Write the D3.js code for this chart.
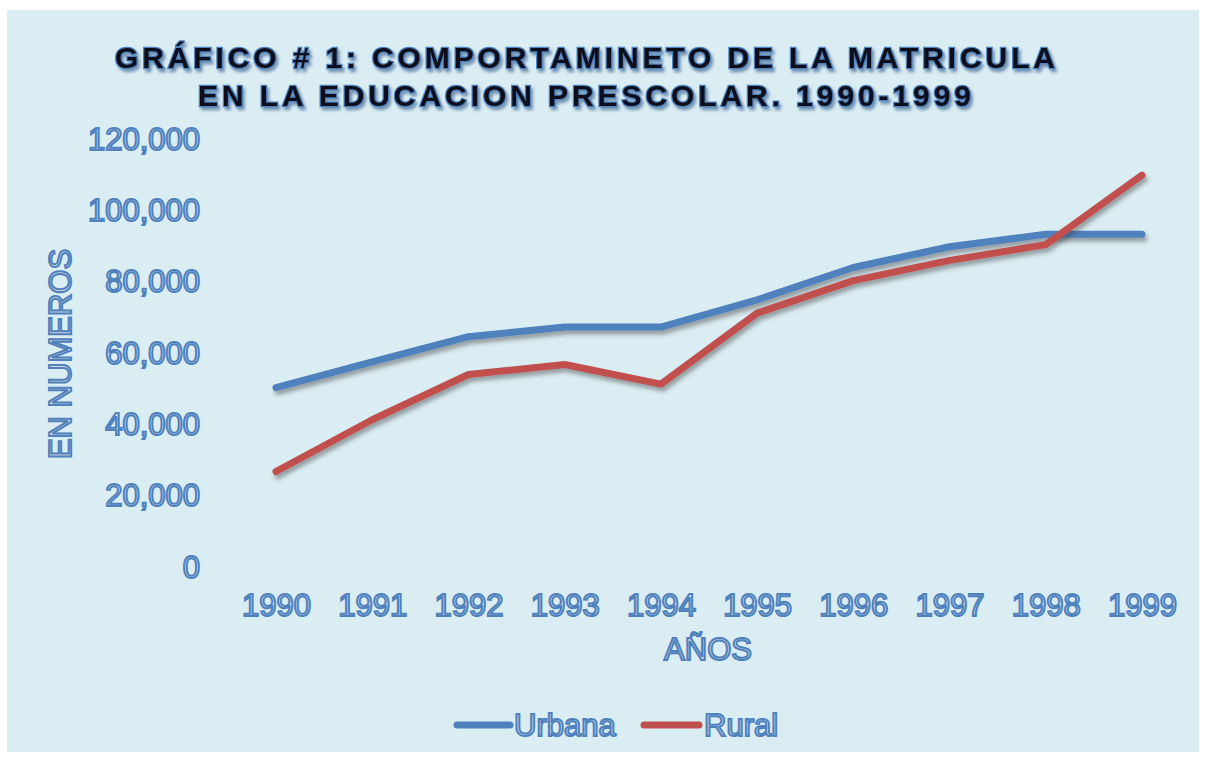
<!DOCTYPE html>
<html>
<head>
<meta charset="utf-8">
<script src="https://cdn.jsdelivr.net/npm/d3@7"></script>
<style>
  html, body { margin: 0; padding: 0; background: #ffffff; }
  svg { display: block; }
</style>
</head>
<body>
<svg id="chart" width="1206" height="760"></svg>
<script>
// ---- data ----
const years = ["1990","1991","1992","1993","1994","1995","1996","1997","1998","1999"];
const urbana = [50000, 57200, 64300, 67000, 67000, 74600, 83700, 89500, 93000, 93000];
const rural  = [26500, 41000, 53700, 56500, 51000, 70900, 80000, 85700, 90100, 109600];
const yTicks = [0, 20000, 40000, 60000, 80000, 100000, 120000];
const seriesNames = ["Urbana", "Rural"];
const titleLines = ["GRÁFICO # 1: COMPORTAMINETO DE LA MATRICULA", "EN LA EDUCACION PRESCOLAR. 1990-1999"];
const xTitle = "AÑOS";
const yTitle = "EN NUMEROS";

const colors = ["#4f81bd", "#c0504d"];
const svg = d3.select("#chart");

// defs
const defs = svg.append("defs");
const sh = defs.append("filter").attr("id","lineShadow")
  .attr("x","-10%").attr("y","-10%").attr("width","120%").attr("height","130%");
sh.append("feDropShadow").attr("dx",2).attr("dy",4).attr("stdDeviation",2.2)
  .attr("flood-color","#3a3a3a").attr("flood-opacity",0.45);
const tsh = defs.append("filter").attr("id","titleShadow")
  .attr("x","-5%").attr("y","-30%").attr("width","110%").attr("height","160%");
tsh.append("feDropShadow").attr("dx",2).attr("dy",3).attr("stdDeviation",1.8)
  .attr("flood-color","#4a6f9a").attr("flood-opacity",0.7);

// background
svg.append("rect").attr("x",7).attr("y",10).attr("width",1192).attr("height",742)
  .attr("fill","#daedf3");

// title
const tl = [{t: titleLines[0], y: 68, x1: 115, x2: 1055}, {t: titleLines[1], y: 106, x1: 198, x2: 971}];
svg.selectAll("text.title").data(tl).join("text")
  .attr("class","title")
  .attr("x", d => d.x1).attr("y", d => d.y)
  .attr("textLength", d => d.x2 - d.x1)
  .attr("lengthAdjust","spacing")
  .attr("font-family","'Liberation Sans', Arial, sans-serif")
  .attr("font-weight","bold").attr("font-size",30)
  .attr("fill","#0b0f1a").attr("stroke","#4f81bd").attr("stroke-width",2.4)
  .attr("paint-order","stroke")
  .attr("filter","url(#titleShadow)")
  .text(d => d.t);

// scales
const x = d3.scalePoint().domain(years).range([276, 1142]);
const y = d3.scaleLinear().domain([0, 120000]).range([566, 138]);

const labelStyle = sel => sel
  .attr("font-family","'Liberation Sans', Arial, sans-serif")
  .attr("font-size",31)
  .attr("fill","#d8e6f4").attr("stroke","#4f81bd").attr("stroke-width",2);

// y axis
const yAxis = d3.axisLeft(y).tickValues(yTicks).tickFormat(d3.format(",")).tickSize(0).tickPadding(0);
const gy = svg.append("g").attr("transform","translate(200,0)").call(yAxis);
gy.select(".domain").remove();
gy.selectAll("text").call(labelStyle).attr("dy","0.36em");

// x axis
const xAxis = d3.axisBottom(x).tickSize(0).tickPadding(0);
const gx = svg.append("g").attr("transform","translate(0,593)").call(xAxis);
gx.select(".domain").remove();
gx.selectAll("text").call(labelStyle).attr("dy","0.74em").attr("y",0);

// axis titles
svg.append("text").attr("x",708).attr("y",660).attr("text-anchor","middle")
  .call(labelStyle).attr("fill","#d9d9d9").text(xTitle);
svg.append("text").attr("transform","translate(71,354) rotate(-90)").attr("text-anchor","middle")
  .call(labelStyle).attr("fill","#d9d9d9").text(yTitle);

// lines
const line = d3.line().x((d,i) => x(years[i])).y(d => y(d));
const data = [urbana, rural];
svg.append("g").selectAll("path").data(data).join("path")
  .attr("d", d => line(d))
  .attr("fill","none")
  .attr("stroke", (d,i) => colors[i])
  .attr("stroke-width",7)
  .attr("stroke-linecap","round").attr("stroke-linejoin","round")
  .attr("filter","url(#lineShadow)");

// legend
const leg = [{n: seriesNames[0], x1: 457, x2: 510, tx: 514}, {n: seriesNames[1], x1: 644, x2: 699, tx: 704}];
const lg = svg.append("g");
lg.selectAll("line").data(leg).join("line")
  .attr("x1", d => d.x1).attr("x2", d => d.x2).attr("y1",725).attr("y2",725)
  .attr("stroke", (d,i) => colors[i]).attr("stroke-width",7).attr("stroke-linecap","round");
lg.selectAll("text").data(leg).join("text")
  .attr("x", d => d.tx).attr("y",736)
  .call(labelStyle).text(d => d.n);
</script>
</body>
</html>
